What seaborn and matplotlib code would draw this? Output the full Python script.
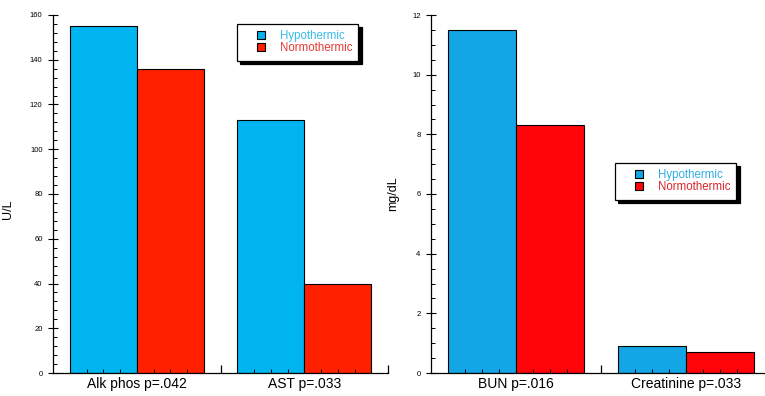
import pandas as pd
import seaborn as sns
import matplotlib.pyplot as plt
from matplotlib.lines import Line2D
from matplotlib.ticker import MultipleLocator

groups = ["Hypothermic", "Normothermic"]

liver_tests = ["Alk phos p=.042", "AST p=.033"]
liver_hypo = [155, 113]
liver_normo = [136, 40]

kidney_tests = ["BUN p=.016", "Creatinine p=.033"]
kidney_hypo = [11.5, 0.9]
kidney_normo = [8.3, 0.7]


def long_df(tests, hypo, normo):
  rows = []
  for t, h, n in zip(tests, hypo, normo):
    rows.append((t, groups[0], h))
    rows.append((t, groups[1], n))
  return pd.DataFrame(rows, columns=["test", "group", "value"])


def style_axis(ax, ymax, ymajor, yminor, ylabel, label_xy, colors, text_colors, leg_xy):
  ax.set_ylim(0, ymax)
  ax.set_xlim(-0.5, 1.5)
  for s in ["top", "right"]:
    ax.spines[s].set_visible(False)
  for s in ["left", "bottom"]:
    ax.spines[s].set_linewidth(0.9)
  ax.yaxis.set_major_locator(MultipleLocator(ymajor))
  ax.yaxis.set_minor_locator(MultipleLocator(yminor))
  ax.xaxis.set_minor_locator(MultipleLocator(0.1))
  ax.tick_params(axis="y", which="major", direction="inout", length=7, width=0.8,
                 labelsize=5.5, pad=4)
  ax.tick_params(axis="y", which="minor", direction="in", length=3, width=0.7)
  ax.tick_params(axis="x", which="major", direction="in", length=3, width=0.7,
                 labelsize=10, pad=3)
  ax.tick_params(axis="x", which="minor", direction="in", length=3, width=0.7)
  sec = ax.secondary_xaxis("bottom")
  sec.set_xticks([0.5, 1.5])
  sec.tick_params(direction="in", length=6, width=0.9, labelbottom=False)
  sec.spines["bottom"].set_visible(False)
  ax.set_xlabel("")
  ax.set_ylabel(ylabel, fontsize=9)
  ax.yaxis.set_label_coords(*label_xy)

  handles = [Line2D([], [], linestyle="none", marker="s", markersize=6.0,
                    markerfacecolor=c, markeredgecolor="black", markeredgewidth=0.8)
             for c in colors]
  leg = ax.legend(handles, groups, loc="upper left", bbox_to_anchor=leg_xy,
                  fontsize=8.3, frameon=True, fancybox=False, framealpha=1,
                  edgecolor="black", borderpad=0.55, labelspacing=0.0,
                  handlelength=3.0, handletextpad=0.15, borderaxespad=0,
                  shadow={"color": "black", "alpha": 1, "ox": 2.3, "oy": -2.3},
                  labelcolor=text_colors)
  leg.get_frame().set_linewidth(0.9)


def main():
  plt.rcParams["font.family"] = ["Liberation Sans", "DejaVu Sans"]

  fig = plt.figure(figsize=(7.65, 3.96), dpi=100)
  ax1 = fig.add_axes([53 / 765, 23 / 396, 335 / 765, 358 / 396])
  ax2 = fig.add_axes([431 / 765, 23 / 396, 340 / 765, 358 / 396])

  left_colors = ["#00B4F0", "#FF2000"]
  right_colors = ["#12A6E6", "#FF0509"]

  df1 = long_df(liver_tests, liver_hypo, liver_normo)
  sns.barplot(data=df1, x="test", y="value", hue="group", palette=left_colors,
              saturation=1, edgecolor="black", linewidth=0.8, legend=False, ax=ax1)
  df2 = long_df(kidney_tests, kidney_hypo, kidney_normo)
  sns.barplot(data=df2, x="test", y="value", hue="group", palette=right_colors,
              saturation=1, edgecolor="black", linewidth=0.8, legend=False, ax=ax2)

  style_axis(ax1, 160, 20, 4, "U/L", (-0.116, 0.458), left_colors,
             ["#38BCEA", "#E43A32"], (0.549, 0.975))
  style_axis(ax2, 12, 2, 0.5, "mg/dL", (-0.094, 0.5), right_colors,
             ["#30AEE2", "#D8262A"], (0.541, 0.587))

  fig.savefig("out.png", dpi=100)


if __name__ == "__main__":
  main()
